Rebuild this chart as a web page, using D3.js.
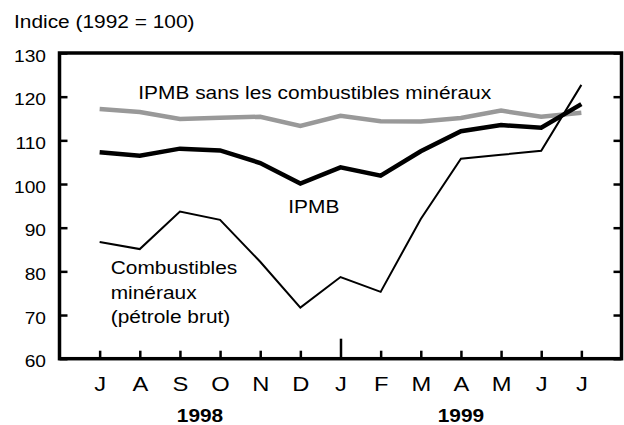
<!DOCTYPE html>
<html>
<head>
<meta charset="utf-8">
<script src="https://cdn.jsdelivr.net/npm/d3@7"></script>
<style>
  body { margin: 0; background: #fff; }
  text { font-family: "Liberation Sans", Arial, sans-serif; fill: #000; }
</style>
</head>
<body>
<div id="chart"></div>
<script>
// month labels (July 1998 -> July 1999)
const months = ["J", "A", "S", "O", "N", "D", "J", "F", "M", "A", "M", "J", "J"];
const years = [{label: "1998", from: 0, to: 5}, {label: "1999", from: 6, to: 12}];
const yTicks = [60, 70, 80, 90, 100, 110, 120, 130];

// series
const ipmbSans = [117.2, 116.5, 114.9, 115.2, 115.4, 113.3, 115.6, 114.4, 114.3, 115.1, 116.8, 115.4, 116.3];
const ipmb = [107.3, 106.5, 108.1, 107.7, 104.8, 100.1, 103.8, 101.9, 107.5, 112.1, 113.5, 112.9, 118.3];
const crude = [86.7, 85.1, 93.7, 91.8, 82.2, 71.7, 78.7, 75.3, 92.0, 105.8, 106.7, 107.6, 122.7];

const w = 624, h = 425;
const sx = 1.13; // text is a bit wide in the original

const svg = d3.select("#chart").append("svg")
  .attr("width", w).attr("height", h);

const x = d3.scaleLinear().domain([-1, 13]).range([59.5, 621.5]);
const y = d3.scaleLinear().domain([60, 130]).range([358.7, 53]);

// helper for stretched text
function txt(px, py, str, size, anchor, weight) {
  return svg.append("text")
    .attr("transform", "translate(" + px + "," + py + ") scale(" + sx + ",1)")
    .attr("text-anchor", anchor || "start")
    .style("font-size", size + "px")
    .style("font-weight", weight || "normal")
    .text(str);
}

// left axis, ticks pointing inwards
const yAxis = d3.axisLeft(y).tickValues(yTicks).tickSizeInner(-8).tickSizeOuter(0).tickFormat(d3.format("d"));
const gy = svg.append("g").attr("transform", "translate(" + x(-1) + ",0)").call(yAxis);
gy.selectAll("text")
  .attr("x", null).attr("dy", null)
  .attr("text-anchor", "end")
  .attr("transform", "translate(-13.5,8) scale(" + sx + ",1)")
  .style("font-size", "17px");

// right axis, ticks only
const yAxisR = d3.axisRight(y).tickValues(yTicks).tickSizeInner(-8).tickSizeOuter(0).tickFormat("");
svg.append("g").attr("transform", "translate(" + x(13) + ",0)").call(yAxisR);

// bottom axis
const xAxis = d3.axisBottom(x).tickValues(d3.range(months.length)).tickSizeInner(-8).tickSizeOuter(0)
  .tickFormat((d, i) => months[i]);
const gx = svg.append("g").attr("transform", "translate(0," + y(60) + ")").call(xAxis);
gx.selectAll("text")
  .attr("y", null).attr("dy", null)
  .attr("transform", "translate(0,32) scale(" + sx + ",1)")
  .style("font-size", "21px");
// the january tick marks the change of year
gx.selectAll(".tick line").filter((d) => d === 6).attr("y2", -20);

svg.selectAll(".domain").remove();
svg.selectAll(".tick line").attr("stroke", "#000").attr("stroke-width", 2.5);

// frame
svg.append("rect")
  .attr("x", x(-1)).attr("y", y(130))
  .attr("width", x(13) - x(-1)).attr("height", y(60) - y(130))
  .attr("fill", "none").attr("stroke", "#000").attr("stroke-width", 3.5);

// lines
const line = d3.line().x((d, i) => x(i)).y((d) => y(d));
svg.append("path").datum(ipmbSans).attr("d", line)
  .attr("fill", "none").attr("stroke", "#999").attr("stroke-width", 4.5);
svg.append("path").datum(ipmb).attr("d", line)
  .attr("fill", "none").attr("stroke", "#000").attr("stroke-width", 4.5);
svg.append("path").datum(crude).attr("d", line)
  .attr("fill", "none").attr("stroke", "#000").attr("stroke-width", 2);

// year labels
years.forEach((yr) => {
  txt((x(yr.from) + x(yr.to)) / 2, 421.7, yr.label, 18.5, "middle", "bold");
});

// titles and annotations
txt(14, 28.3, "Indice (1992 = 100)", 18.5);
txt(138.3, 99.3, "IPMB sans les combustibles minéraux", 18.5);
txt(288.3, 213.3, "IPMB", 18.5);
txt(110.7, 274, "Combustibles", 18.5);
txt(110.7, 298.5, "minéraux", 18.5);
txt(110.7, 323, "(pétrole brut)", 18.5);
</script>
</body>
</html>
